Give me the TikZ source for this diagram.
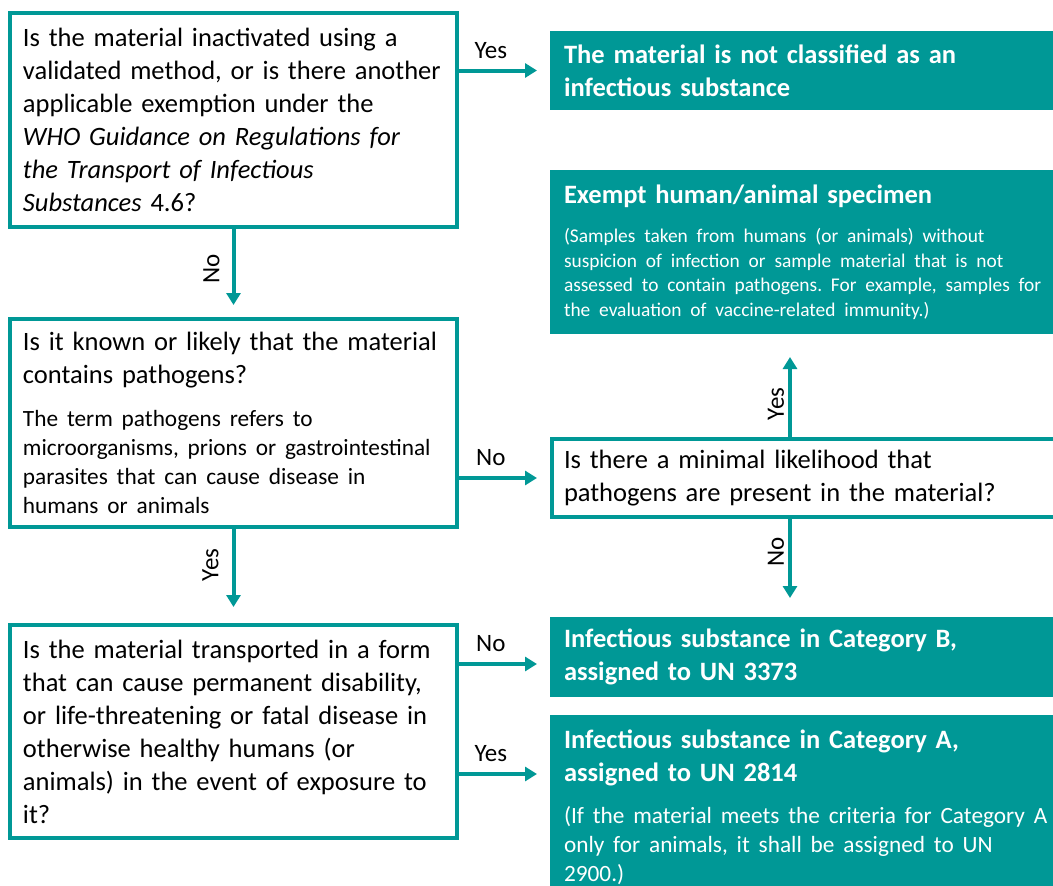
\documentclass[tikz,border=0pt]{standalone}
\usepackage{fontspec}
\setmainfont{Carlito}
\usetikzlibrary{arrows.meta,positioning}
\definecolor{whoteal}{RGB}{0,152,150}
\frenchspacing
\hyphenpenalty=10000
\newcommand{\bigtext}{\fontsize{26.5}{33}\selectfont}
\newcommand{\notetext}{\fontsize{23.3}{29}\selectfont}
\newcommand{\finetext}{\fontsize{19.4}{24.5}\selectfont}
\tikzset{
question/.style = {draw=whoteal, line width=4pt, fill=white, rectangle, align=left, anchor=north west, inner xsep=12.8pt, text width=421pt, font=\bigtext},
outcome/.style = {fill=whoteal, rectangle, align=left, anchor=north west, outer sep=0pt, inner xsep=14pt, text width=492pt, text=white, font=\bigtext\bfseries},
flow/.style = {draw=whoteal, line width=4pt, -{Triangle[width=14pt,length=12pt]}, shorten >=13pt},
answer/.style = {font=\fontsize{25}{30}\selectfont, inner xsep=1pt, inner ysep=10pt}
}

\begin{document}
\begin{tikzpicture}[x=1pt, y=-1pt]
    \useasboundingbox (0,0) rectangle (1053,886);

    % questions on the left
    \node[question, minimum width=447pt, minimum height=214pt] (q1) at (8,11) {Is the material inactivated using a\\ validated method, or is there another\\ applicable exemption under the\\ \textit{WHO Guidance on Regulations for}\\ \textit{the Transport of Infectious}\\ \textit{Substances} 4.6?};
    \node[question, minimum width=447pt, minimum height=208pt, below=88pt of q1.south west, anchor=north west] (q2) {Is it known or likely that the material\\ contains pathogens?\par\vspace{14pt}{\notetext The term pathogens refers to\\ microorganisms, prions or gastrointestinal\\ parasites that can cause disease in\\ humans or animals\par}};
    \node[question, minimum width=447pt, minimum height=213pt, below=94pt of q2.south west, anchor=north west] (q4) {Is the material transported in a form\\ that can cause permanent disability,\\ or life-threatening or fatal disease in\\ otherwise healthy humans (or\\ animals) in the event of exposure to\\ it?};
    \node[question, inner xsep=12pt, text width=494pt, minimum width=518pt, minimum height=78pt] (q3) at (550,437) {Is there a minimal likelihood that\\ pathogens are present in the material?};

    % outcomes on the right
    \node[outcome, minimum width=520pt, minimum height=79pt] (r1) at (550,31) {The material is not classified as an\\ infectious substance};
    \node[outcome, minimum width=520pt, minimum height=164pt] (r2) at (550,170) {Exempt human/animal specimen\par\vspace{15pt}{\finetext\mdseries (Samples taken from humans (or animals) without\\ suspicion of infection or sample material that is not\\ assessed to contain pathogens. For example, samples for\\ the evaluation of vaccine-related immunity.)\par}};
    \node[outcome, minimum width=520pt, minimum height=80pt] (r3) at (550,617) {Infectious substance in Category B,\\ assigned to UN 3373};
    \node[outcome, minimum width=520pt, minimum height=184pt] (r4) at (550,715) {Infectious substance in Category A,\\ assigned to UN 2814\par\vspace{13pt}{\notetext\mdseries (If the material meets the criteria for Category A\\ only for animals, it shall be assigned to UN\\ 2900.)\par}};

    \coordinate[xshift=240pt] (split) at (q3.north west);
    \coordinate[yshift=-7pt] (toB) at (r3.west);
    \coordinate[yshift=33pt] (toA) at (r4.west);

    \draw[flow] (q1.east |- r1.west) -- node[answer, pos=0.35, above] {Yes} (r1.west);
    \draw[flow, shorten >=12pt] (q1.south) -- node[answer, pos=0.45, above, rotate=90, inner ysep=12pt] {No} (q2.north);
    \draw[flow] (q2.east |- q3.west) -- node[answer, pos=0.35, above] {No} (q3.west);
    \draw[flow, shorten >=16pt] (q2.south) -- node[answer, pos=0.38, above, rotate=90, inner ysep=13pt] {Yes} (q4.north);
    \draw[flow, shorten >=23pt] (split) -- node[answer, pos=0.32, above, rotate=90, inner ysep=4pt] {Yes} (split |- r2.south);
    \draw[flow, shorten >=19pt] (split |- q3.south) -- node[answer, pos=0.34, above, rotate=90, inner ysep=4pt] {No} (split |- r3.north);
    \draw[flow] (toB -| q4.east) -- node[answer, pos=0.35, above] {No} (toB);
    \draw[flow] (toA -| q4.east) -- node[answer, pos=0.35, above] {Yes} (toA);
\end{tikzpicture}
\end{document}
